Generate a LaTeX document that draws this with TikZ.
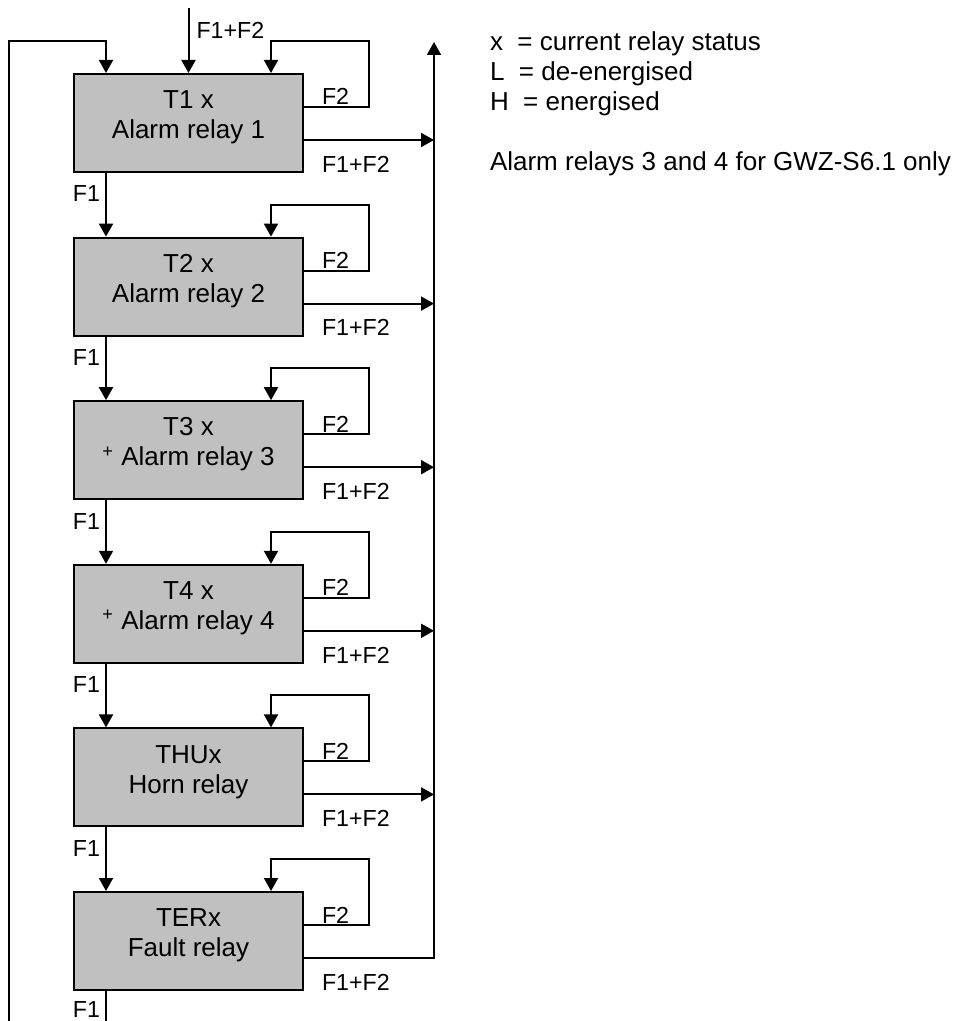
\documentclass[tikz,border=0pt]{standalone}
\usepackage{fontspec}
\setmainfont{Liberation Sans}
\usetikzlibrary{arrows.meta,calc,positioning}
\definecolor{RelayGray}{RGB}{192,192,192}
\newcommand\boxfont{\fontsize{13}{15}\selectfont}
\newcommand\labfont{\fontsize{11.6}{13}\selectfont}

\begin{document}
\begin{tikzpicture}[x=0.5pt,y=-0.5pt,>={Triangle[length=6.5pt,width=7pt]},line width=1pt,
    relay/.style={draw,fill=RelayGray,minimum width=114.5pt,minimum height=49pt,inner sep=0pt,
      align=center,font=\boxfont,text depth=8.3pt},
    lab/.style={font=\labfont,inner sep=0.5pt}]
  \useasboundingbox (0,0) rectangle (970,1021);
  \coordinate (bus) at (434,42);
  \coordinate (back) at (9,1021);
  \coordinate (feed) at (188.5,8);
  \foreach \i/\tag/\txt in {1/T1 x/Alarm relay 1,2/T2 x/Alarm relay 2,
      3/T3 x/\textsuperscript{+} Alarm relay 3,4/T4 x/\textsuperscript{+} Alarm relay 4,
      5/THUx/Horn relay,6/TERx/Fault relay}{
    \node[relay] (b\i) at (188.5,{123+163.6*(\i-1)}) {\tag\\\txt};
    \coordinate (f\i) at ($(b\i.north west)+(33,0)$);
    \coordinate (g\i) at ($(b\i.north east)+(-33,0)$);
    \coordinate (o\i) at ($(b\i.east)+(0,17)$);
    \draw[->] ($(b\i.east)+(0,-16)$) node[lab,anchor=south west,xshift=8pt]{F2}
      -- ++(65,0) |- ($(g\i)+(0,-32)$) -- (g\i);}
  \foreach \i in {1,...,5}
    \draw[->] (o\i) node[lab,anchor=north west,xshift=8pt,yshift=-7pt]{F1+F2} -- (o\i -| bus);
  \draw[->] (o6) node[lab,anchor=north west,xshift=8pt,yshift=-7pt]{F1+F2} -| (bus);
  \foreach \i [count=\j from 2] in {1,...,5}
    \draw[->] (b\i.south -| f\i) -- node[lab,left,pos=0.33,xshift=-2pt]{F1} (f\j);
  \draw (b6.south -| f6) -- node[lab,left,pos=0.62,xshift=-2pt]{F1} (f6 |- back);
  \draw[->] (back) |- ($(f1)+(0,-32)$) -- (f1);
  \draw[->] (feed) -- node[lab,right,pos=0.35,xshift=3pt]{F1+F2} (b1.north);
  \foreach \k/\legtext in {0/x\ \ = current relay status,1/L\ \ = de-energised,
      2/H\ \ = energised,4/Alarm relays 3 and 4 for GWZ-S6.1 only}
    \node[font=\boxfont,inner sep=0pt,anchor=base west] (leg\k) at (489,{51+30*\k}) {\legtext};
\end{tikzpicture}
\end{document}
